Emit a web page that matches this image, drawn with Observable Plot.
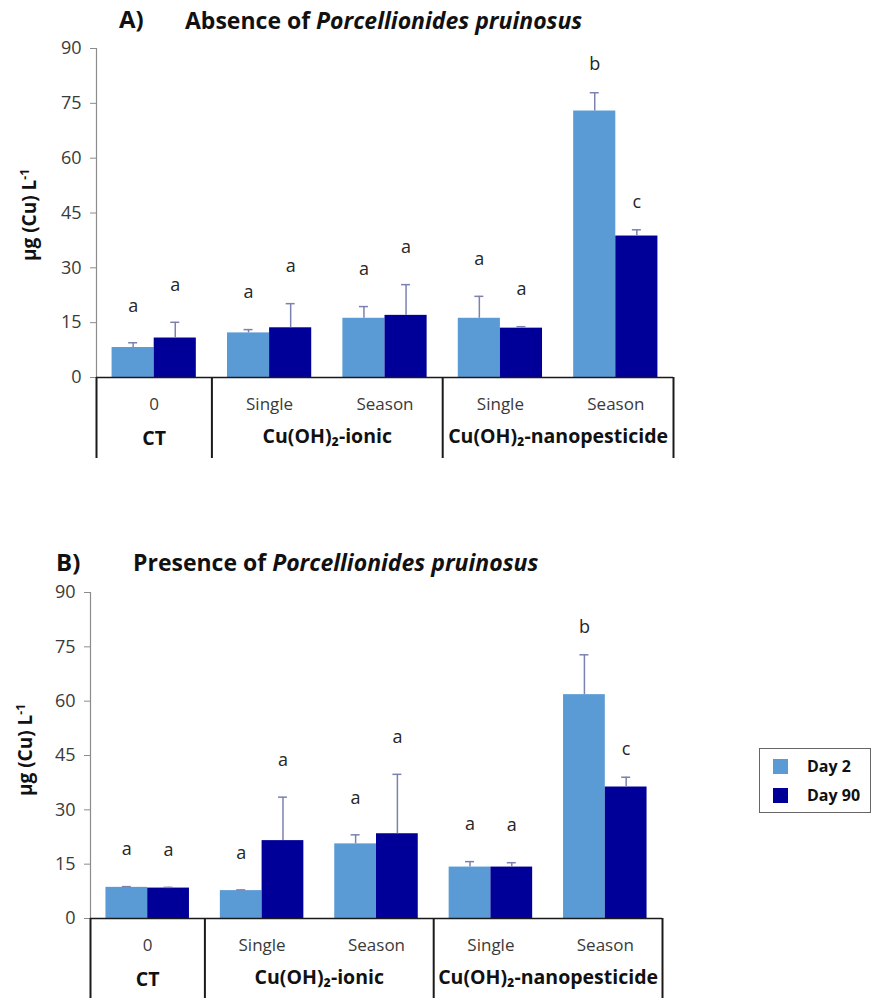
<!DOCTYPE html>
<html><head><meta charset="utf-8">
<script src="https://cdn.jsdelivr.net/npm/d3@7"></script>
<script src="https://cdn.jsdelivr.net/npm/@observablehq/plot@0.6"></script>
<style>
body{margin:0;background:#fff;font-family:"Open Sans",Lato,sans-serif;}
#root{position:relative;width:872px;height:998px;overflow:hidden;background:#fff;}
.panel{position:absolute;left:0;}
.tl{position:absolute;font-weight:bold;color:#111;white-space:nowrap;line-height:1;}
.ylab{position:absolute;font-weight:bold;color:#111;white-space:nowrap;font-size:19px;transform:translate(-50%,-50%) rotate(-90deg);}
.ylab sup{font-size:12px;}
#legend{position:absolute;left:759px;top:748px;width:110px;height:63px;border:1.5px solid #666;background:#fff;}
.sw{position:absolute;left:13px;width:15px;height:15px;}
.lt{position:absolute;left:47px;font-weight:bold;font-size:16px;color:#111;line-height:15px;}
</style></head>
<body><div id="root"></div>
<script>
// ---- data ----
const groups = ["CT|0", "ionic|Single", "ionic|Season", "nano|Single", "nano|Season"];
const subLabels = ["0", "Single", "Season", "Single", "Season"];
const groupNames = ["CT", "Cu(OH)₂-ionic", "Cu(OH)₂-nanopesticide"];
const groupFirst = ["CT|0", "ionic|Single", "nano|Single"];
const groupSpan = [1, 2, 2];
const days = ["Day 2", "Day 90"];
const dayColors = ["#5b9bd5", "#000099"];
const yTicks = [0, 15, 30, 45, 60, 75, 90];

// A) Absence of Porcellionides pruinosus
const absDay2 = [8.2, 12.2, 16.2, 16.2, 72.9];
const absDay2Err = [1.3, 0.9, 3.2, 6.0, 5.0];
const absDay2Letters = ["a", "a", "a", "a", "b"];
const absDay90 = [10.8, 13.6, 17.0, 13.5, 38.7];
const absDay90Err = [4.3, 6.6, 8.4, 0.4, 1.7];
const absDay90Letters = ["a", "a", "a", "a", "c"];

// B) Presence of Porcellionides pruinosus
const preDay2 = [8.6, 7.7, 20.6, 14.2, 61.8];
const preDay2Err = [0.2, 0.2, 2.5, 1.5, 11.0];
const preDay2Letters = ["a", "a", "a", "a", "b"];
const preDay90 = [8.4, 21.5, 23.4, 14.2, 36.3];
const preDay90Err = [0.2, 12.0, 16.4, 1.2, 2.7];
const preDay90Letters = ["a", "a", "a", "a", "c"];

// ---- helpers ----
function rowsOf(vals, errs, letters, day) {
  return groups.map((g, i) => ({group: g, day, value: vals[i], err: errs[i], letter: letters[i]}));
}

const FONT = '"Open Sans", Lato, sans-serif';
const errColor = "#7b82b0";

function panel(cfg) {
  const {top, height, mL, mR, mT, mB, sepDepth, d2, d90} = cfg;
  const width = 872;
  const pInner = 0.27, pOuter = 0.135;
  const W = width - mL - mR;
  const step = W / (groups.length - pInner + 2 * pOuter);
  const bw = step * (1 - pInner);
  const frameH = height - mT - mB;
  const cap = 9;
  const subRows = groups.map((g, i) => ({group: g, sub: subLabels[i]}));
  const gRows = groupNames.map((n, i) => ({name: n, group: groupFirst[i], span: groupSpan[i]}));
  const letterMarks = (rows, off) => [
    Plot.text(rows.filter(d => d.letter === "a"), {x: "group", y: d => d.value + d.err, text: "letter",
      dx: off, dy: -37, fontSize: 18, fill: "#262626"}),
    Plot.text(rows.filter(d => d.letter !== "a"), {x: "group", y: d => d.value + d.err, text: "letter",
      dx: off, dy: -28, fontSize: 18, fill: "#262626"})
  ];
  const barsFor = (rows, idx) => [
    Plot.barY(rows, {x: "group", y: "value", fill: dayColors[idx],
      insetLeft: idx === 0 ? 0 : bw / 2, insetRight: idx === 0 ? bw / 2 : 0}),
    Plot.ruleX(rows, {x: "group", y1: "value", y2: d => d.value + d.err,
      dx: idx === 0 ? -bw / 4 : bw / 4, stroke: errColor, strokeWidth: 1.5}),
    Plot.tickY(rows, {x: "group", y: d => d.value + d.err, stroke: errColor, strokeWidth: 1.5,
      insetLeft: (idx === 0 ? bw / 4 : 3 * bw / 4) - cap / 2,
      insetRight: (idx === 0 ? 3 * bw / 4 : bw / 4) - cap / 2}),
    ...letterMarks(rows, idx === 0 ? -bw / 4 : bw / 4)
  ];
  const chart = Plot.plot({
    width, height,
    marginLeft: mL, marginRight: mR, marginTop: mT, marginBottom: mB,
    style: {fontFamily: FONT, overflow: "visible", background: "transparent"},
    x: {type: "band", domain: groups, paddingInner: pInner, paddingOuter: pOuter, round: false, axis: null},
    y: {domain: [0, 90], axis: null},
    marks: [
      Plot.frame({anchor: "left", stroke: "#8c8c8c", strokeWidth: 1.2}),
      Plot.axisY({ticks: yTicks, tickSize: 6, tickPadding: 9, fontSize: 18,
        stroke: "#8c8c8c", fill: "#3a3a3a", label: null, tickFormat: d => String(d)}),
      ...barsFor(d2, 0),
      ...barsFor(d90, 1),
      Plot.ruleY([0], {stroke: "#1a1a1a", strokeWidth: 1.6}),
      Plot.ruleX([groups[0], groups[1], groups[3]], {x: d => d, dx: -step / 2,
        insetTop: frameH, insetBottom: -sepDepth, stroke: "#1a1a1a", strokeWidth: 2}),
      Plot.ruleX([groups[4]], {x: d => d, dx: step / 2,
        insetTop: frameH, insetBottom: -sepDepth, stroke: "#1a1a1a", strokeWidth: 2}),
      Plot.text(subRows, {x: "group", text: "sub", frameAnchor: "bottom", dy: 32,
        fontSize: 17, fill: "#3a3a3a"}),
      Plot.text(gRows.filter(d => d.span === 1), {x: "group", text: "name", frameAnchor: "bottom",
        dy: 67, fontSize: 19.5, fontWeight: "bold", fill: "#111"}),
      Plot.text(gRows.filter(d => d.span === 2), {x: "group", text: "name", frameAnchor: "bottom",
        dx: step / 2, dy: 65, fontSize: 19.5, fontWeight: "bold", fill: "#111"})
    ]
  });
  const wrap = document.createElement("div");
  wrap.className = "panel";
  wrap.style.top = top + "px";
  wrap.appendChild(chart);
  return wrap;
}

const root = document.getElementById("root");

root.appendChild(panel({
  top: 0, height: 470, mL: 96, mR: 199, mT: 48, mB: 93, sepDepth: 81,
  d2: rowsOf(absDay2, absDay2Err, absDay2Letters, days[0]),
  d90: rowsOf(absDay90, absDay90Err, absDay90Letters, days[1])
}));
root.appendChild(panel({
  top: 540, height: 458, mL: 90, mR: 210, mT: 52, mB: 80, sepDepth: 80,
  d2: rowsOf(preDay2, preDay2Err, preDay2Letters, days[0]),
  d90: rowsOf(preDay90, preDay90Err, preDay90Letters, days[1])
}));

function addHTML(html) { root.insertAdjacentHTML("beforeend", html); }
addHTML('<div class="tl" style="left:119px;top:7px;font-size:24px;">A)</div>');
addHTML('<div class="tl" style="left:185px;top:9px;font-size:23px;">Absence of <i>Porcellionides pruinosus</i></div>');
addHTML('<div class="tl" style="left:56px;top:550px;font-size:24px;">B)</div>');
addHTML('<div class="tl" style="left:133px;top:551px;font-size:23px;">Presence of <i>Porcellionides pruinosus</i></div>');
addHTML('<div class="ylab" style="left:29px;top:215px;">µg (Cu) L<sup>-1</sup></div>');
addHTML('<div class="ylab" style="left:25px;top:750px;">µg (Cu) L<sup>-1</sup></div>');

const legend = document.createElement("div");
legend.id = "legend";
days.forEach((d, i) => {
  legend.insertAdjacentHTML("beforeend",
    `<div class="sw" style="top:${10 + i * 29}px;background:${dayColors[i]}"></div>` +
    `<div class="lt" style="top:${10 + i * 29}px">${d}</div>`);
});
root.appendChild(legend);
</script>
</body></html>
